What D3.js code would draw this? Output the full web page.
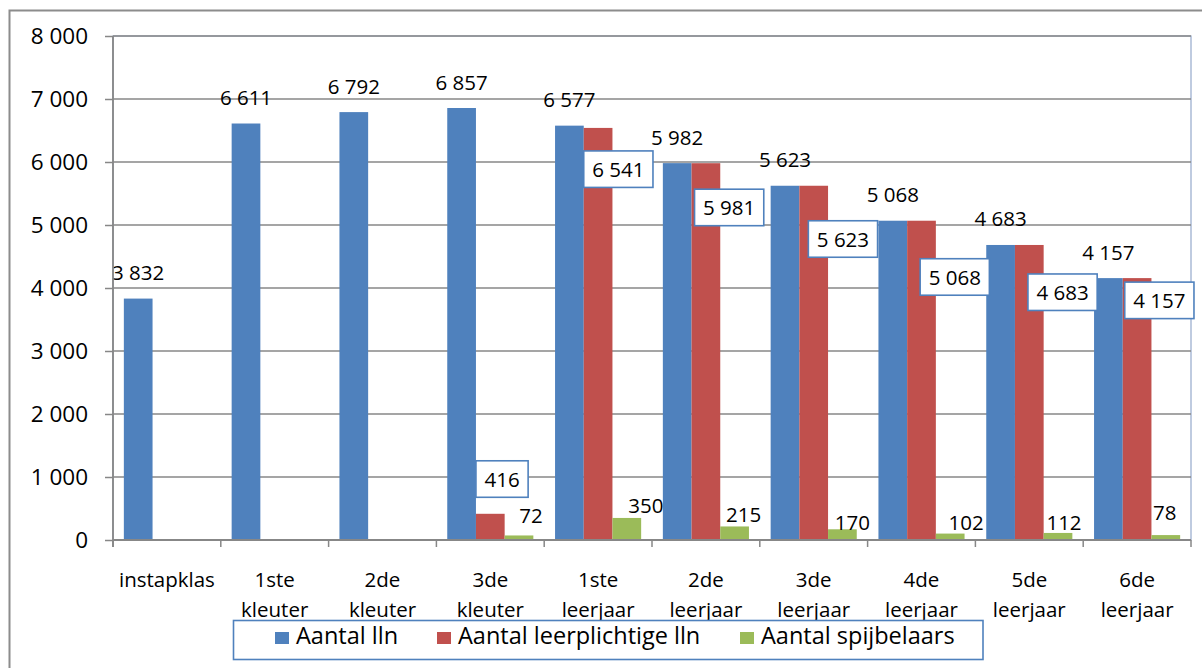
<!DOCTYPE html>
<html>
<head>
<meta charset="utf-8">
<script src="https://cdn.jsdelivr.net/npm/d3@7"></script>
<style>
  html, body { margin: 0; padding: 0; background: #fff; }
  svg { display: block; font-family: "Open Sans", "Liberation Sans", sans-serif; }
</style>
</head>
<body>
<svg id="chart" width="1202" height="668"></svg>
<script>
// ---------- data ----------
const categories = ["instapklas", "1ste kleuter", "2de kleuter", "3de kleuter", "1ste leerjaar",
                    "2de leerjaar", "3de leerjaar", "4de leerjaar", "5de leerjaar", "6de leerjaar"];
const seriesNames = ["Aantal lln", "Aantal leerplichtige lln", "Aantal spijbelaars"];
const aantalLln = [3832, 6611, 6792, 6857, 6577, 5982, 5623, 5068, 4683, 4157];
const aantalLeerplichtig = [null, null, null, 416, 6541, 5981, 5623, 5068, 4683, 4157];
const aantalSpijbelaars = [null, null, null, 72, 350, 215, 170, 102, 112, 78];
const yTicks = [0, 1000, 2000, 3000, 4000, 5000, 6000, 7000, 8000];

// ---------- layout / style ----------
const colors = ["#4F81BD", "#C0504D", "#9BBB59"];
const plot = { left: 113, right: 1191, top: 36, bottom: 540 };
// manual label nudges (px, relative to the bar's scale position), as in the original
const redBoxNudge = [null, null, null, [0, -53], [0, 23], [3, 26], [9, 35], [13, 38], [13, 29], [2, 4]];
const greenLabelNudge = [null, null, null, [12, -12], [19, -5], [9, -4], [10, 1], [16, -4], [6, -3], [-1, -15]];

const svg = d3.select("#chart");
const fmt = d3.formatLocale({ decimal: ",", thousands: " ", grouping: [3], currency: ["", ""] }).format(",d");

const y = d3.scaleLinear().domain([0, 8000]).range([plot.bottom, plot.top]);
const x0 = d3.scaleBand().domain(categories).range([plot.left, plot.right]).padding(0);
const x1 = d3.scaleBand().domain(seriesNames).range([0, x0.bandwidth()]).paddingInner(0).paddingOuter(0.378);

// outer chart border
svg.append("rect").attr("x", 9.5).attr("y", 10.5).attr("width", 1220).attr("height", 700)
  .attr("fill", "none").attr("stroke", "#8C8C8C").attr("stroke-width", 2);

// plot area border
svg.append("rect").attr("x", plot.left).attr("y", plot.top)
  .attr("width", plot.right - plot.left).attr("height", plot.bottom - plot.top)
  .attr("fill", "none").attr("stroke", "#95A9CC").attr("stroke-width", 1.2);

// gridlines
svg.append("g").selectAll("line").data(yTicks.filter(t => t > 0)).join("line")
  .attr("x1", plot.left).attr("x2", plot.right)
  .attr("y1", d => y(d)).attr("y2", d => y(d))
  .attr("stroke", "#878787").attr("stroke-width", 1.5);

// bars
const seriesData = [aantalLln, aantalLeerplichtig, aantalSpijbelaars];
const barsG = svg.append("g");
seriesData.forEach((vals, si) => {
  barsG.append("g").selectAll("rect")
    .data(vals.map((v, i) => ({ v, c: categories[i], i })).filter(d => d.v != null))
    .join("rect")
    .attr("x", d => x0(d.c) + x1(seriesNames[si]))
    .attr("width", x1.bandwidth())
    .attr("y", d => y(d.v))
    .attr("height", d => y(0) - y(d.v))
    .attr("fill", colors[si]);
});

// blue labels (outside end)
svg.append("g").selectAll("text")
  .data(aantalLln.map((v, i) => ({ v, c: categories[i] })))
  .join("text")
  .attr("x", d => x0(d.c) + x1(seriesNames[0]) + x1.bandwidth() / 2)
  .attr("y", d => y(d.v) - 18.5)
  .attr("text-anchor", "middle").attr("font-size", 20.5).attr("fill", "#000")
  .text(d => fmt(d.v));

// y axis
const yAxis = svg.append("g").attr("transform", `translate(${plot.left},0)`)
  .call(d3.axisLeft(y).tickValues(yTicks).tickSize(8).tickSizeOuter(0).tickPadding(17).tickFormat(fmt));
yAxis.select(".domain").attr("stroke", "#878787").attr("stroke-width", 1.8)
  .attr("d", `M0,${plot.top}V${plot.bottom + 7}`);
yAxis.selectAll(".tick line").attr("stroke", "#878787").attr("stroke-width", 1.5);
yAxis.selectAll(".tick text").attr("font-size", 22.5).attr("fill", "#000")
  .attr("font-family", "'Open Sans', sans-serif").attr("dy", "0.34em");

// x axis line and ticks at category boundaries
const xAxisG = svg.append("g");
xAxisG.append("line").attr("x1", plot.left).attr("x2", plot.right)
  .attr("y1", y(0)).attr("y2", y(0)).attr("stroke", "#878787").attr("stroke-width", 1.8);
const boundaries = categories.map(c => x0(c)).concat([x0.range()[1]]);
xAxisG.selectAll("line.tick").data(boundaries).join("line").attr("class", "tick")
  .attr("x1", d => d).attr("x2", d => d).attr("y1", y(0)).attr("y2", y(0) + 7)
  .attr("stroke", "#878787").attr("stroke-width", 1.5);

// category labels
const catG = svg.append("g").attr("font-size", 20.5).attr("fill", "#000").attr("text-anchor", "middle");
categories.forEach(c => {
  const t = catG.append("text").attr("x", x0(c) + x0.bandwidth() / 2).attr("y", 587);
  c.split(" ").forEach((w, k) => {
    t.append("tspan").attr("x", x0(c) + x0.bandwidth() / 2).attr("dy", k === 0 ? 0 : 30).text(w);
  });
});

// green labels
svg.append("g").selectAll("text")
  .data(aantalSpijbelaars.map((v, i) => ({ v, c: categories[i], i })).filter(d => d.v != null))
  .join("text")
  .attr("x", d => x0(d.c) + x1(seriesNames[2]) + x1.bandwidth() / 2 + greenLabelNudge[d.i][0])
  .attr("y", d => y(d.v) + greenLabelNudge[d.i][1])
  .attr("text-anchor", "middle").attr("font-size", 20.5).attr("fill", "#000")
  .text(d => fmt(d.v));

// red boxed labels
const redG = svg.append("g");
aantalLeerplichtig.forEach((v, i) => {
  if (v == null) return;
  const c = categories[i];
  const g = redG.append("g");
  const t = g.append("text").attr("font-size", 20.5).attr("fill", "#000").attr("text-anchor", "middle").text(fmt(v));
  const tw = t.node().getComputedTextLength();
  const bw = tw + 17, bh = 36.5;
  const bx = x0(c) + x1(seriesNames[1]) + redBoxNudge[i][0];
  const by = y(v) + redBoxNudge[i][1];
  g.insert("rect", "text").attr("x", bx).attr("y", by).attr("width", bw).attr("height", bh)
    .attr("fill", "#fff").attr("stroke", "#4F81BD").attr("stroke-width", 1.6);
  t.attr("x", bx + bw / 2).attr("y", by + bh / 2 + 8);
});

// legend
const lg = svg.append("g");
lg.append("rect").attr("x", 233.5).attr("y", 620.5).attr("width", 749.5).attr("height", 39)
  .attr("fill", "#fff").attr("stroke", "#4F81BD").attr("stroke-width", 1.6);
const legendX = [275, 437, 740];
seriesNames.forEach((n, i) => {
  lg.append("rect").attr("x", legendX[i]).attr("y", 632).attr("width", 14).attr("height", 12).attr("fill", colors[i]);
  lg.append("text").attr("x", legendX[i] + 21).attr("y", 644).attr("font-size", 23.5).attr("fill", "#000").text(n);
});
</script>
</body>
</html>
